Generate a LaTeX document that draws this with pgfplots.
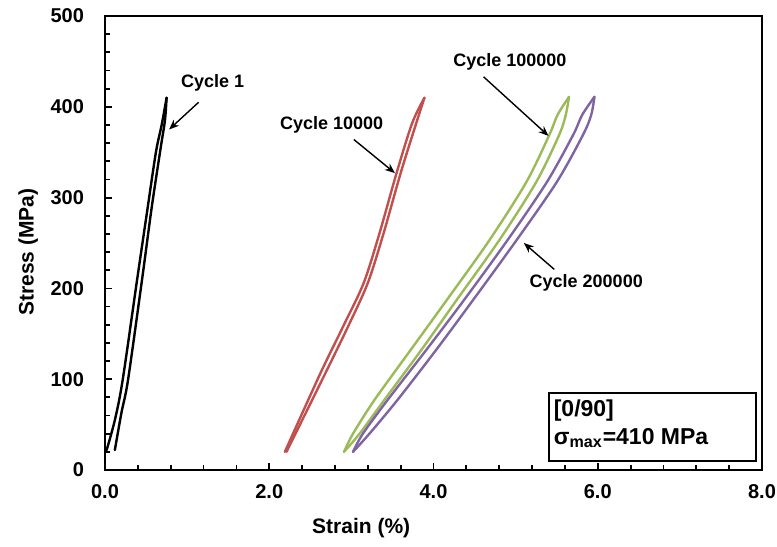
\documentclass[border=0pt]{standalone}
\usepackage{fontspec}
\setmainfont{Liberation Sans}
\usepackage{pgfplots}
\pgfplotsset{compat=1.18}
\usetikzlibrary{arrows.meta,calc}

\definecolor{cred}{HTML}{C0504D}
\definecolor{cgreen}{HTML}{9BBB59}
\definecolor{cpurple}{HTML}{8064A2}

\begin{document}
\begin{tikzpicture}[font=\bfseries]
\begin{axis}[
    name=ax,
    scale only axis,
    width=328.5pt, height=227pt,
    xmin=0, xmax=8, ymin=0, ymax=500,
    xtick={0,2,4,6,8}, ytick={0,100,200,300,400,500},
    minor x tick num=4, minor y tick num=4,
    xtick pos=bottom, ytick pos=left,
    tick align=inside,
    major tick length=3.5pt, minor tick length=2.3pt,
    every tick/.style={black, line width=0.9pt},
    axis line style={line width=1.3pt},
    /pgf/number format/assume math mode=true,
    tick label style={font=\bfseries\fontsize{10}{12}\selectfont},
    x tick label style={/pgf/number format/fixed, /pgf/number format/fixed zerofill, /pgf/number format/precision=1, yshift=-3.5pt},
    y tick label style={xshift=-7pt},
    xlabel={Strain (\%)}, ylabel={Stress (MPa)},
    label style={font=\bfseries\fontsize{10.5}{12}\selectfont},
    xlabel style={at={(axis description cs:0.39,-0.128)}, anchor=center},
    ylabel style={at={(axis description cs:-0.117,0.48)}, anchor=center},
    every axis plot/.append style={line width=1.2pt, smooth, tension=0.5, line join=round, line cap=round},
    clip=false,
]
% Cycle 1: loading / unloading
\addplot[black] coordinates {
    (0.12,22) (0.20,63) (0.28,99) (0.45,209) (0.57,290) (0.68,356) (0.73,385) (0.75,410)
};
\addplot[black] coordinates {
    (0.75,410) (0.69,380) (0.62,350) (0.51,283) (0.39,209) (0.215,99) (0.12,55) (0.02,22)
};
% Cycle 10000
\addplot[cred] coordinates {
    (2.21,20) (2.68,106) (2.97,160) (3.20,206) (3.39,260) (3.60,327) (3.79,382) (3.89,410)
};
\addplot[cred] coordinates {
    (3.89,410) (3.74,382) (3.55,327) (3.34,260) (3.15,206) (2.91,160) (2.62,106) (2.19,20)
};
% Cycle 100000
\addplot[cgreen] coordinates {
    (2.91,20) (3.10,40) (3.40,77) (3.85,132) (4.28,187) (4.80,253) (5.25,317) (5.53,369) (5.61,391) (5.65,411)
};
\addplot[cgreen] coordinates {
    (5.65,411) (5.51,391) (5.41,369) (5.13,317) (4.68,253) (4.16,187) (3.72,132) (3.28,77) (3.02,40) (2.91,20)
};
% Cycle 200000
\addplot[cpurple] coordinates {
    (3.02,20) (3.22,40) (3.56,77) (4.03,132) (4.48,187) (5.01,253) (5.50,317) (5.82,369) (5.92,391) (5.96,411)
};
\addplot[cpurple] coordinates {
    (5.96,411) (5.81,391) (5.70,369) (5.38,317) (4.90,253) (4.37,187) (3.91,132) (3.44,77) (3.14,40) (3.02,20)
};

\node[font=\bfseries\fontsize{9}{11}\selectfont] at (axis cs:1.31,426) {Cycle 1};
\node[font=\bfseries\fontsize{9}{11}\selectfont] at (axis cs:2.76,380) {Cycle 10000};
\node[font=\bfseries\fontsize{9}{11}\selectfont] at (axis cs:4.93,450) {Cycle 100000};
\node[font=\bfseries\fontsize{9}{11}\selectfont] at (axis cs:5.86,206) {Cycle 200000};

\draw[-{Stealth[length=5pt,width=4pt]}, line width=0.7pt] (axis cs:1.14,405) -- (axis cs:0.78,375);
\draw[-{Stealth[length=5pt,width=4pt]}, line width=0.7pt] (axis cs:3.03,364) -- (axis cs:3.53,327);
\draw[-{Stealth[length=5pt,width=4pt]}, line width=0.7pt] (axis cs:4.61,433) -- (axis cs:5.40,368);
\draw[-{Stealth[length=5pt,width=4pt]}, line width=0.7pt] (axis cs:5.47,221) -- (axis cs:5.10,250);

\draw[line width=0.9pt, fill=white] (axis cs:5.41,10) rectangle (axis cs:7.93,85);
\node[anchor=west, font=\bfseries\fontsize{11.5}{13}\selectfont, inner sep=0pt] at (axis cs:5.46,66) {[0/90]};
\node[anchor=west, font=\bfseries\fontsize{11.5}{13}\selectfont, inner sep=0pt] at (axis cs:5.46,35) {σ\textsubscript{max}=410 MPa};
\end{axis}
\pgfresetboundingbox
\path ($(ax.south west)+(-52.5pt,-38pt)$) rectangle ($(ax.north east)+(7.5pt,8pt)$);
\end{tikzpicture}
\end{document}
